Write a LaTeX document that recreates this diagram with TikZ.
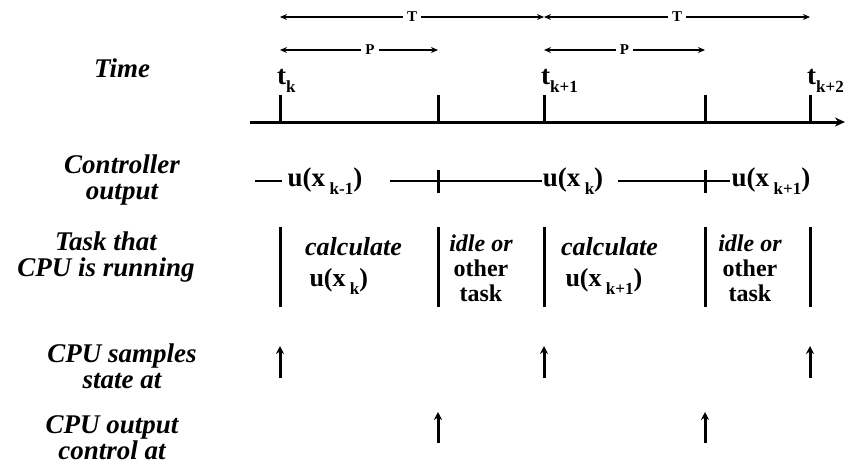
\documentclass[tikz,border=0pt]{standalone}
\usepackage{fontspec}
\setmainfont{Liberation Serif}
\usetikzlibrary{arrows.meta}

\newcommand{\lowidx}[1]{\raisebox{-0.3em}{\fontsize{17}{17}\selectfont #1}}

\begin{document}
\begin{tikzpicture}[x=1pt,y=-1pt,
	lbl/.style={font=\fontsize{27}{26}\selectfont\bfseries\itshape, align=center},
	val/.style={font=\fontsize{27}{27}\selectfont\bfseries, inner sep=1pt},
	cell/.style={font=\fontsize{26}{26}\selectfont\bfseries, inner sep=0pt},
	idle/.style={font=\fontsize{24}{25}\selectfont\bfseries, inner sep=0pt, align=center},
	per/.style={font=\fontsize{15}{15}\selectfont\bfseries, fill=white, inner sep=4pt},
	span/.style={line width=1.4pt, {Stealth[length=7pt,width=6pt]}-{Stealth[length=7pt,width=6pt]}},
	wire/.style={line width=1.4pt},
	bar/.style={line width=3pt},
	hit/.style={line width=3pt, -{Stealth[length=8pt,width=8pt]}}]
	\useasboundingbox (0,0) rectangle (852,466);

	% row labels
	\node[lbl] (time) at (122,68) {Time};
	\node[lbl] (ctrl) at (122,180) {Controller\\output};
	\node[lbl] (task) at (106,257) {Task that\\CPU is running};
	\node[lbl] (samp) at (122,366) {CPU samples\\state at};
	\node[lbl] (outp) at (112,438) {CPU output\\control at};

	% time axis and ticks
	\coordinate (a0) at (250,122);
	\coordinate (a1) at (845,122);
	\draw[line width=3pt, -{Stealth[length=10pt,width=9pt]}] (a0) -- (a1);
	\foreach \n/\x in {0/280,1/438,2/544,3/705,4/810} {
		\coordinate (b\n) at (\x,122);
		\coordinate (h\n) at (\x,95);
		\coordinate (T\n) at (\x,17);
		\coordinate (P\n) at (\x,50);
		\draw[bar] (b\n) -- (h\n);
	}
	\node[val, anchor=base west] (tk0) at (276,84) {t\lowidx{k}};
	\node[val, anchor=base west] (tk1) at (540,84) {t\lowidx{k+1}};
	\node[val, anchor=base west] (tk2) at (806,84) {t\lowidx{k+2}};

	% periods
	\draw[span] (T0) -- node[per] (per0) {T} (T2);
	\draw[span] (T2) -- node[per] (per1) {T} (T4);
	\draw[span] (P0) -- node[per, pos=0.57] (pro0) {P} (P1);
	\draw[span] (P2) -- node[per] (pro1) {P} (P3);

	% controller output
	\node[val] (u0) at (325,181) {u(x\,\lowidx{k-1})};
	\node[val] (u1) at (573,181) {u(x\,\lowidx{k})};
	\node[val] (u2) at (771,181) {u(x\,\lowidx{k+1})};
	\coordinate (c0) at (255,181);
	\draw[wire] (c0) -- ([xshift=-4pt]u0.west);
	\draw[wire] ([xshift=26pt]u0.east) -- (u1.west);
	\draw[wire] ([xshift=14pt]u1.east) -- (u2.west);
	\draw[bar] (438,170) -- (438,193);
	\draw[bar] (705,170) -- (705,193);

	% task that CPU is running
	\foreach \n/\x in {0/280,1/438,2/544,3/705,4/810} {
		\draw[bar] (\x,227) -- (\x,307);
	}
	\node[cell, align=left, anchor=west] (calc0) at (305,266) {\textit{calculate}\\[5pt]\,u(x\,\lowidx{k})};
	\node[idle] (idle0) at (481,268) {\textit{idle or}\\other\\task};
	\node[cell, align=left, anchor=west] (calc1) at (561,266) {\textit{calculate}\\[5pt]\,u(x\,\lowidx{k+1})};
	\node[idle] (idle1) at (750,268) {\textit{idle or}\\other\\task};

	% sampling and output instants
	\foreach \n/\x in {0/280,1/544,2/810} {
		\coordinate (s\n) at (\x,378);
		\coordinate (r\n) at (\x,346);
		\draw[hit] (s\n) -- (r\n);
	}
	\foreach \n/\x in {0/438,1/705} {
		\coordinate (o\n) at (\x,443);
		\coordinate (q\n) at (\x,412);
		\draw[hit] (o\n) -- (q\n);
	}
\end{tikzpicture}
\end{document}
